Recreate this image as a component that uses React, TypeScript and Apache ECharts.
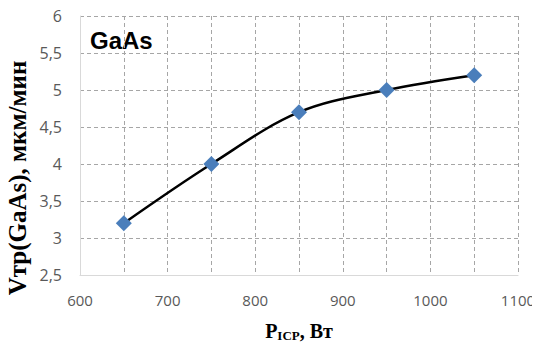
import React, { useEffect, useRef } from "react";
import * as echarts from "echarts";

const powers = [650, 750, 850, 950, 1050];
const rates = [3.2, 4.0, 4.7, 5.0, 5.2];
const xLabels = ["600", "700", "800", "900", "1000", "1100"];
const yLabels = ["2,5", "3", "3,5", "4", "4,5", "5", "5,5", "6"];

export default function App() {
  const ref = useRef<HTMLDivElement>(null);
  useEffect(() => {
    if (!ref.current) return;
    const chart = echarts.init(ref.current, undefined, { renderer: "svg" });
    chart.setOption({
      animation: false,
      grid: { left: 80, top: 16, right: 22, bottom: 76, containLabel: false },
      graphic: [
        {
          type: "text",
          x: 90,
          y: 40,
          style: {
            text: "GaAs",
            font: "bold 24px 'Liberation Sans', sans-serif",
            fill: "#000",
            textVerticalAlign: "middle",
          },
        },
        {
          type: "text",
          x: 17,
          y: 178,
          rotation: Math.PI / 2,
          style: {
            text: "Vтр(GaAs), мкм/мин",
            font: "bold 25px 'Liberation Serif', serif",
            fill: "#000",
            textAlign: "center",
            textVerticalAlign: "middle",
          },
        },
      ],
      xAxis: {
        type: "value",
        min: 600,
        max: 1100,
        interval: 50,
        axisLine: { show: true, lineStyle: { color: "#d9d9d9", width: 1 } },
        axisTick: { show: false },
        splitLine: { show: true, lineStyle: { color: "#a6a6a6", type: [4, 3], width: 1 } },
        axisLabel: {
          margin: 17,
          color: "#595959",
          fontSize: 15,
          fontFamily: "'Open Sans', sans-serif",
          formatter: (v: number) => (v % 100 === 0 ? xLabels[(v - 600) / 100] : ""),
        },
        name: "{b|P}{s|ICP}{b|, Вт}",
        nameLocation: "middle",
        nameGap: 45,
        nameTextStyle: {
          rich: {
            b: { fontFamily: "'Liberation Serif', serif", fontWeight: "bold", fontSize: 20, color: "#000" },
            s: { fontFamily: "'Liberation Serif', serif", fontWeight: "bold", fontSize: 13, color: "#000", verticalAlign: "bottom", padding: [9, 0, 0, 0] },
          },
        },
      },
      yAxis: {
        type: "value",
        min: 2.5,
        max: 6,
        interval: 0.5,
        axisLine: { show: true, lineStyle: { color: "#d9d9d9", width: 1 } },
        axisTick: { show: false },
        splitLine: { show: true, lineStyle: { color: "#a6a6a6", type: [4, 3], width: 1 } },
        axisLabel: {
          margin: 18,
          color: "#595959",
          fontSize: 16,
          fontFamily: "'Open Sans', sans-serif",
          formatter: (v: number) => yLabels[Math.round((v - 2.5) / 0.5)] ?? "",
        },
      },
      series: [
        {
          type: "line",
          data: powers.map((p, i) => [p, rates[i]]),
          smooth: 0.35,
          symbol: "diamond",
          symbolSize: 16,
          lineStyle: { color: "#000", width: 2.5 },
          itemStyle: { color: "#4a7ebb" },
          z: 3,
        },
      ],
    });
    return () => chart.dispose();
  }, []);
  return <div ref={ref} style={{ width: 540, height: 351, margin: -8 }} />;
}
